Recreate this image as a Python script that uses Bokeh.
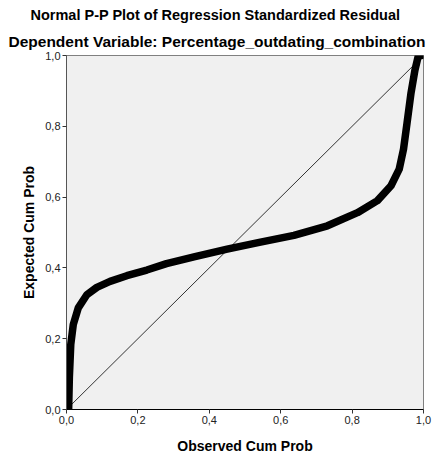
from bokeh.plotting import figure
from bokeh.models import Range1d, Title, FixedTicker
from bokeh.embed import file_html
from bokeh.resources import INLINE

# Data
observed = [0.006, 0.008, 0.012, 0.019, 0.033, 0.057, 0.085, 0.122, 0.169, 0.225,
            0.28, 0.36, 0.45, 0.54, 0.637, 0.731, 0.815, 0.871, 0.909, 0.932,
            0.944, 0.954, 0.965, 0.976, 0.985, 0.995]
expected = [0.0, 0.09, 0.184, 0.24, 0.287, 0.324, 0.345, 0.362, 0.378, 0.394,
            0.412, 0.432, 0.453, 0.472, 0.492, 0.519, 0.556, 0.59, 0.632, 0.679,
            0.735, 0.81, 0.894, 0.959, 0.997, 1.0]
ref_line = [0.0, 1.0]
ticks = [0.0, 0.2, 0.4, 0.6, 0.8, 1.0]
tick_labels = ["0,0", "0,2", "0,4", "0,6", "0,8", "1,0"]

title_main = "Normal P-P Plot of Regression Standardized Residual"
title_sub = "Dependent Variable: Percentage_outdating_combination"

FONT = "Liberation Sans"

p = figure(width=433, height=456, output_backend="svg", toolbar_location=None,
           x_range=Range1d(0, 1), y_range=Range1d(0, 1),
           min_border_left=66, min_border_right=10, min_border_top=55,
           min_border_bottom=44, title=None)

p.background_fill_color = "#f0f0f0"
p.border_fill_color = "white"
p.outline_line_color = "#808080"
p.outline_line_width = 1
p.grid.visible = False

# titles (first added is closest to the plot); centred on the whole page
p.add_layout(Title(text=title_sub, align="left", text_font=FONT,
                   text_font_size="15.5px", text_font_style="bold",
                   text_color="black", offset=-58, standoff=11), "above")
p.add_layout(Title(text=title_main, align="left", text_font=FONT,
                   text_font_size="14.5px", text_font_style="bold",
                   text_color="black", offset=-36, standoff=5), "above")

overrides = {t: l for t, l in zip(ticks, tick_labels)}
for ax, lab in ((p.xaxis[0], "Observed Cum Prob"), (p.yaxis[0], "Expected Cum Prob")):
    ax.ticker = FixedTicker(ticks=ticks)
    ax.major_label_overrides = overrides
    ax.minor_tick_line_color = None
    ax.major_tick_in = 0
    ax.major_tick_out = 4
    ax.major_tick_line_color = "#333333"
    ax.major_label_text_font = FONT
    ax.major_label_text_font_size = "11px"
    ax.major_label_text_color = "#222222"
    ax.major_label_standoff = 2
    ax.axis_label = lab
    ax.axis_label_text_font = FONT
    ax.axis_label_text_font_size = "14px"
    ax.axis_label_text_font_style = "bold"
    ax.axis_label_text_color = "black"

p.xaxis.axis_label_standoff = 11
p.yaxis.axis_label_standoff = 5
p.xaxis.axis_line_color = "black"
p.yaxis.axis_line_color = "#555555"
p.yaxis.major_label_orientation = "horizontal"

p.line(ref_line, ref_line, line_color="#333333", line_width=1)
p.line(observed, expected, line_color="black", line_width=7.5,
       line_cap="round", line_join="round")

open("out.html", "w").write(file_html(p, INLINE))
